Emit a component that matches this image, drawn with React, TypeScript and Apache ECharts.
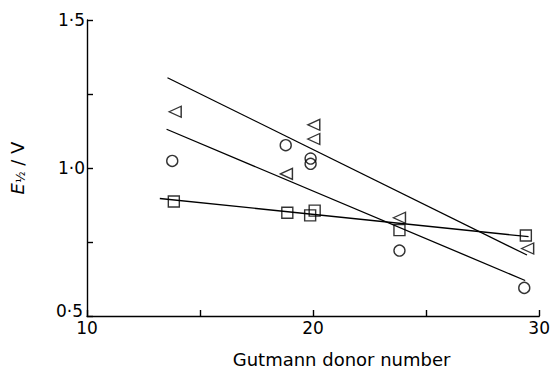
import React, { useEffect, useRef } from "react";
import * as echarts from "echarts";

const triX = [13.9, 18.82, 20.03, 20.03, 23.82, 29.49];
const triY = [1.19, 0.98, 1.146, 1.098, 0.832, 0.728];
const cirX = [13.77, 18.79, 19.89, 19.89, 23.82, 29.34];
const cirY = [1.024, 1.077, 1.032, 1.014, 0.721, 0.595];
const sqX = [13.84, 18.86, 19.87, 20.07, 23.82, 29.41];
const sqY = [0.887, 0.849, 0.84, 0.856, 0.79, 0.772];

const triFitX = [13.56, 29.46];
const triFitY = [1.305, 0.706];
const cirFitX = [13.52, 29.38];
const cirFitY = [1.131, 0.62];
const sqFitX = [13.22, 29.53];
const sqFitY = [0.897, 0.768];

const xLabels = [10, 20, 30];
const yLabels = [0.5, 1.0, 1.5];

const FONT = "DejaVu Sans";

const zip = (xs: number[], ys: number[]) => xs.map((x, i) => [x, ys[i]]);

export default function App() {
  const ref = useRef<HTMLDivElement>(null);
  useEffect(() => {
    if (!ref.current) return;
    const chart = echarts.init(ref.current, null, { renderer: "svg" });
    const marker = {
      color: "transparent",
      borderColor: "#000",
      borderWidth: 1.4,
    };
    const lineStyle = { color: "#000", width: 1.3 };
    chart.setOption({
      animation: false,
      backgroundColor: "#fff",
      grid: { left: 87, top: 20, right: 13, bottom: 50 },
      xAxis: {
        type: "value",
        min: 10,
        max: 30,
        interval: 5,
        name: "Gutmann donor number",
        nameLocation: "middle",
        nameGap: 34,
        nameTextStyle: {
          fontFamily: FONT,
          fontSize: 18,
          color: "#000",
          verticalAlign: "top",
          padding: [0, 0, 0, 57],
        },
        axisLine: { lineStyle: { color: "#000", width: 1.4 } },
        axisTick: { inside: true, length: 6, lineStyle: { color: "#000", width: 1.4 } },
        axisLabel: {
          margin: 3,
          fontFamily: FONT,
          fontSize: 17,
          color: "#000",
          formatter: (v: number) => (xLabels.includes(v) ? String(v) : ""),
        },
        splitLine: { show: false },
      },
      yAxis: {
        type: "value",
        min: 0.5,
        max: 1.5,
        interval: 0.25,
        name: "{i|E}{s|½}{n| / V}",
        nameLocation: "middle",
        nameRotate: 90,
        nameGap: 60,
        nameTextStyle: {
          color: "#000",
          rich: {
            i: { fontFamily: FONT, fontSize: 18, fontStyle: "italic", color: "#000" },
            s: { fontFamily: FONT, fontSize: 12, color: "#000", verticalAlign: "bottom", padding: [8, 0, 0, 0] },
            n: { fontFamily: FONT, fontSize: 18, color: "#000" },
          },
        },
        axisLine: { lineStyle: { color: "#000", width: 1.4 } },
        axisTick: { inside: true, length: 6, lineStyle: { color: "#000", width: 1.4 } },
        axisLabel: {
          margin: 2,
          fontFamily: FONT,
          fontSize: 17,
          color: "#000",
          formatter: (v: number) => {
            if (!yLabels.some((l) => Math.abs(l - v) < 1e-9)) return "";
            const t = v.toFixed(1).replace(".", "·");
            return v === 0.5 ? "{lo|" + t + "}" : t;
          },
          rich: {
            lo: { fontFamily: FONT, fontSize: 17, color: "#000", padding: [0, 2, 10, 0] },
          },
        },
        splitLine: { show: false },
      },
      series: [
        { type: "line", data: zip(triFitX, triFitY), symbol: "none", lineStyle, silent: true },
        { type: "line", data: zip(cirFitX, cirFitY), symbol: "none", lineStyle, silent: true },
        { type: "line", data: zip(sqFitX, sqFitY), symbol: "none", lineStyle, silent: true },
        {
          type: "scatter",
          data: zip(triX, triY),
          symbol: "triangle",
          symbolRotate: 90,
          symbolSize: [11, 12],
          itemStyle: marker,
        },
        {
          type: "scatter",
          data: zip(cirX, cirY),
          symbol: "circle",
          symbolSize: 11,
          itemStyle: marker,
        },
        {
          type: "scatter",
          data: zip(sqX, sqY),
          symbol: "rect",
          symbolSize: 11,
          itemStyle: marker,
        },
      ],
    });
    return () => chart.dispose();
  }, []);
  return (
    <div
      ref={ref}
      style={{ position: "absolute", left: 0, top: 0, width: 553, height: 373 }}
    />
  );
}
